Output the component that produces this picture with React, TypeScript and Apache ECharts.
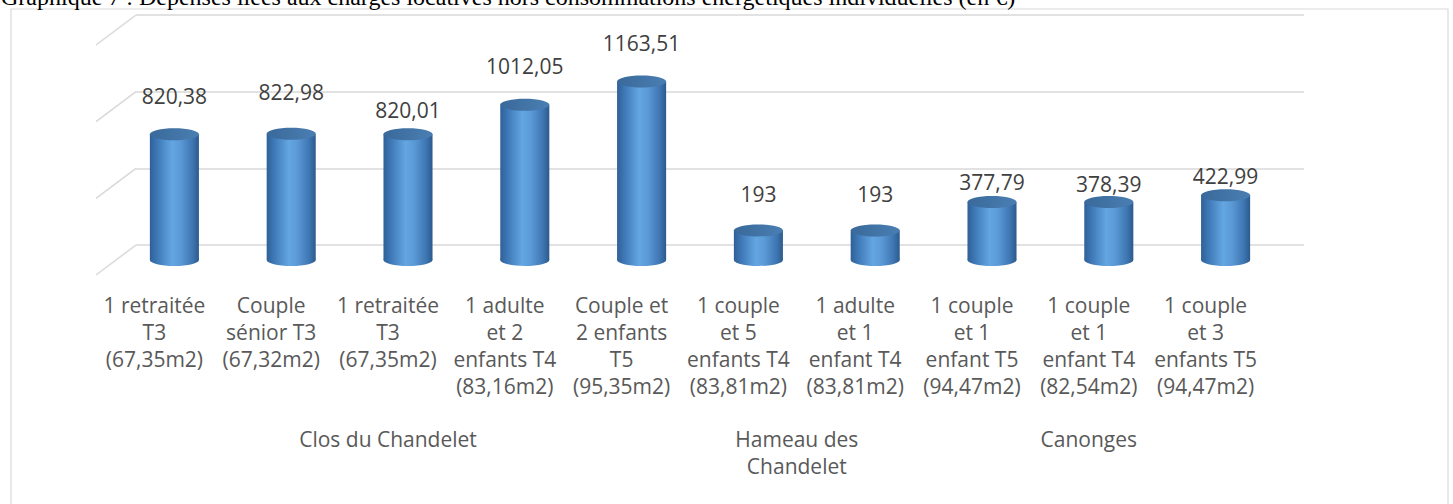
import { useEffect, useRef } from 'react';
import * as echarts from 'echarts';

// ---- data ----
const TITLE =
  'Graphique 7 : Dépenses liées aux charges locatives hors consommations énergétiques individuelles (en €)';
const categories = [
  '1 retraitée\nT3\n(67,35m2)',
  'Couple\nsénior T3\n(67,32m2)',
  '1 retraitée\nT3\n(67,35m2)',
  '1 adulte\net 2\nenfants T4\n(83,16m2)',
  'Couple et\n2 enfants\nT5\n(95,35m2)',
  '1 couple\net 5\nenfants T4\n(83,81m2)',
  '1 adulte\net 1\nenfant T4\n(83,81m2)',
  '1 couple\net 1\nenfant T5\n(94,47m2)',
  '1 couple\net 1\nenfant T4\n(82,54m2)',
  '1 couple\net 3\nenfants T5\n(94,47m2)',
];
const values = [820.38, 822.98, 820.01, 1012.05, 1163.51, 193, 193, 377.79, 378.39, 422.99];
const groups = ['Clos du Chandelet', 'Hameau des\nChandelet', 'Canonges'];
const groupSizes = [5, 2, 3];
const yTicks = [0, 500, 1000, 1500];

// ---- style ----
const labelRise = [38, 42, 24, 39, 39, 36, 36, 20, 18, 19];
const DEPTH_X = 20;
const DEPTH_Y = 15;
const PLOT_LEFT = 96;
const PLOT_W = 1168;
const PLOT_TOP = 45;
const PLOT_H = 230;
const GRID_COLOR = '#d9d9d9';
const FONT = '"Open Sans", "Noto Sans", sans-serif';

const fmt = (v: number) => String(v).replace('.', ',');

// group centres, in half-band units
const groupCenters: Record<number, string> = {};
{
  let start = 0;
  groups.forEach((g, i) => {
    groupCenters[start * 2 + groupSizes[i]] = g;
    start += groupSizes[i];
  });
}

export default function App() {
  const ref = useRef<HTMLDivElement>(null);
  useEffect(() => {
    if (!ref.current) return;
    const chart = echarts.init(ref.current, undefined, { renderer: 'svg' });

    const bodyGrad = new echarts.graphic.LinearGradient(0, 0, 1, 0, [
      { offset: 0, color: '#2f6097' },
      { offset: 0.15, color: '#3e78b6' },
      { offset: 0.45, color: '#63a6e2' },
      { offset: 0.62, color: '#5b9ad7' },
      { offset: 0.87, color: '#3e76b2' },
      { offset: 1, color: '#2c5a8c' },
    ]);
    const capGrad = new echarts.graphic.LinearGradient(0, 0, 1, 0, [
      { offset: 0, color: '#3a699a' },
      { offset: 1, color: '#4a7eb2' },
    ]);

    const grids = [0, 1, 2, 3].map((k) => {
      const d = k === 3 ? 0 : 2 - k;
      return {
        left: PLOT_LEFT + d * DEPTH_X,
        top: PLOT_TOP - d * DEPTH_Y,
        width: PLOT_W,
        height: PLOT_H,
      };
    });

    const hiddenY = (gi: number) => ({
      type: 'value' as const,
      gridIndex: gi,
      min: 0,
      max: 1500,
      interval: 500,
      show: gi === 0,
      axisLine: { show: false },
      axisTick: { show: false },
      axisLabel: { show: false },
      splitLine: { show: gi === 0, lineStyle: { color: GRID_COLOR, width: 1.5 } },
    });

    chart.setOption({
      animation: false,
      backgroundColor: '#ffffff',
      textStyle: { fontFamily: FONT },
      graphic: [
        {
          type: 'rect',
          shape: { x: 11, y: 9, width: 1437, height: 520 },
          style: { fill: 'none', stroke: GRID_COLOR, lineWidth: 1.2 },
          silent: true,
          z: -10,
        },
        {
          type: 'text',
          x: 1,
          y: -3,
          style: {
            text: TITLE,
            fontFamily: '"Liberation Serif", "Times New Roman", serif',
            fontSize: 24,
            fill: '#000000',
            verticalAlign: 'middle',
          },
          silent: true,
        },
      ],
      grid: grids,
      xAxis: [
        { type: 'category', gridIndex: 0, data: categories, show: false },
        { type: 'category', gridIndex: 1, data: categories, show: false },
        {
          type: 'category',
          gridIndex: 2,
          data: categories,
          axisLine: { show: false },
          axisTick: { show: false },
          splitLine: { show: false },
          axisLabel: {
            interval: 0,
            margin: 16,
            fontSize: 21,
            lineHeight: 27,
            color: '#595959',
            fontFamily: FONT,
            align: 'center',
          },
        },
        {
          type: 'value',
          gridIndex: 3,
          min: 0,
          max: categories.length * 2,
          interval: 1,
          axisLine: { show: false },
          axisTick: { show: false },
          splitLine: { show: false },
          axisLabel: {
            margin: 150,
            fontSize: 21,
            lineHeight: 27,
            color: '#595959',
            fontFamily: FONT,
            align: 'center',
            verticalAlign: 'top',
            formatter: (v: number) => groupCenters[Math.round(v)] || '',
          },
        },
      ],
      yAxis: [hiddenY(0), hiddenY(1), hiddenY(2), hiddenY(3)],
      series: [
        {
          type: 'custom',
          xAxisIndex: 0,
          yAxisIndex: 0,
          silent: true,
          z: 1,
          data: yTicks.map((v) => [0, v]),
          renderItem: (params: any, api: any) => {
            const p = api.coord([0, api.value(1)]);
            const x0 = params.coordSys.x;
            return {
              type: 'line',
              shape: { x1: x0, y1: p[1], x2: x0 - 2 * DEPTH_X, y2: p[1] + 2 * DEPTH_Y },
              style: { stroke: GRID_COLOR, lineWidth: 1.5 },
            };
          },
        },
        {
          type: 'custom',
          xAxisIndex: 1,
          yAxisIndex: 1,
          silent: true,
          z: 5,
          data: values.map((v, i) => [i, v]),
          renderItem: (params: any, api: any) => {
            const idx = api.value(0);
            const v = api.value(1);
            const top = api.coord([idx, v]);
            const base = api.coord([idx, 0]);
            const bw = api.size([1, 0])[0] * 0.42;
            const rx = bw / 2;
            const ry = 6;
            const cx = top[0];
            return {
              type: 'group',
              children: [
                { type: 'ellipse', shape: { cx, cy: base[1], rx, ry }, style: { fill: bodyGrad } },
                {
                  type: 'rect',
                  shape: { x: cx - rx, y: top[1], width: bw, height: base[1] - top[1] },
                  style: { fill: bodyGrad },
                },
                { type: 'ellipse', shape: { cx, cy: top[1], rx, ry }, style: { fill: capGrad } },
                {
                  type: 'text',
                  style: {
                    text: fmt(values[idx]),
                    x: cx,
                    y: top[1] - labelRise[idx],
                    align: 'center',
                    verticalAlign: 'middle',
                    fontSize: 21,
                    fontFamily: FONT,
                    fill: '#404040',
                  },
                },
              ],
            };
          },
        },
      ],
    });
    return () => chart.dispose();
  }, []);
  return (
    <div
      ref={ref}
      style={{ position: 'fixed', left: 0, top: 0, width: 1453, height: 504, background: '#fff' }}
    />
  );
}
